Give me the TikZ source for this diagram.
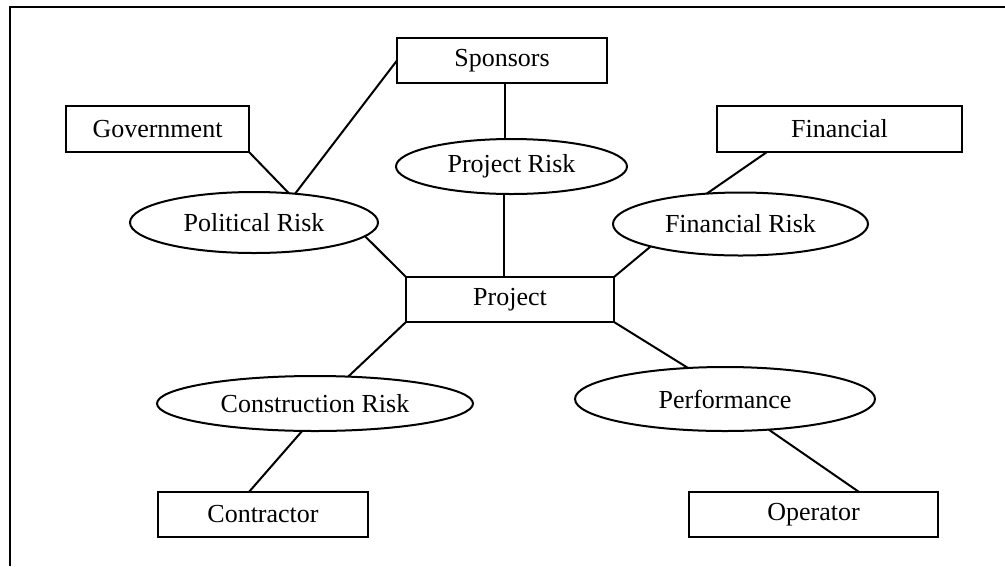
\documentclass[tikz,border=0pt]{standalone}
\usepackage{fontspec}
\setmainfont{Liberation Serif}
\usetikzlibrary{calc,shapes.geometric}
\tikzset{
    riskbox/.style={draw, rectangle, line width=2pt, inner sep=0pt, outer sep=0pt,
        font=\fontsize{26}{30}\selectfont},
    riskoval/.style={draw, ellipse, line width=2pt, inner sep=0pt, outer sep=0pt,
        font=\fontsize{26}{30}\selectfont},
    link/.style={line width=2pt}
}

\begin{document}
\begin{tikzpicture}[x=1pt, y=-1pt]
    \useasboundingbox (0,0) rectangle (1005,566);

    % draw the frame
    \draw[link] (9.5,566) -- (9.5,7) -- (1005,7);

    % draw the boxes
    \node[riskbox, minimum width=210pt, minimum height=45pt] (spons) at (502,60.5) {Sponsors};
    \node[riskbox, minimum width=183pt, minimum height=46pt] (gov) at (157.5,129) {Government};
    \node[riskbox, minimum width=245pt, minimum height=46pt] (fin) at (839.5,129) {Financial};
    \node[riskbox, minimum width=208pt, minimum height=45pt] (proj) at (510,299.5) {Project};
    \node[riskbox, minimum width=210pt, minimum height=45pt] (contr) at (263,514.5) {Contractor};
    \node[riskbox, minimum width=249pt, minimum height=45pt] (oper) at (813.5,514.5) {Operator};

    % draw the risks
    \node[riskoval, minimum width=231pt, minimum height=55pt] (prisk) at (511.5,166.5) {Project Risk};
    \node[riskoval, minimum width=248pt, minimum height=61pt] (pol) at (254,222.5) {Political Risk};
    \node[riskoval, minimum width=255pt, minimum height=63pt] (finrisk) at (740.5,224) {Financial Risk};
    \node[riskoval, minimum width=316pt, minimum height=55pt] (cons) at (315,403.5) {Construction Risk};
    \node[riskoval, minimum width=300pt, minimum height=64pt] (perf) at (725,399) {Performance};

    % connect the top half
    \draw[link] (gov.south east) -- (pol.40);
    \draw[link] (spons.west) -- (pol.35);
    \draw[link] ($(spons.south)+(3,0)$) -- ($(spons.south |- prisk.north)+(3,0)$);
    \draw[link] ($(prisk.south)+(-8,0)$) -- ($(prisk.south |- proj.north)+(-8,0)$);
    \draw[link] (pol.-7) -- (proj.north west);
    \draw[link] ($(fin.south west)!0.204!(fin.south east)$) -- (finrisk.138);
    \draw[link] (finrisk.-166) -- (proj.north east);

    % connect the bottom half
    \draw[link] (proj.south west) -- (cons.39);
    \draw[link] (proj.south east) -- (perf.140);
    \draw[link] (cons.-115) -- ($(contr.north west)!0.433!(contr.north east)$);
    \draw[link] (perf.-35) -- ($(oper.north west)!0.683!(oper.north east)$);
\end{tikzpicture}
\end{document}
